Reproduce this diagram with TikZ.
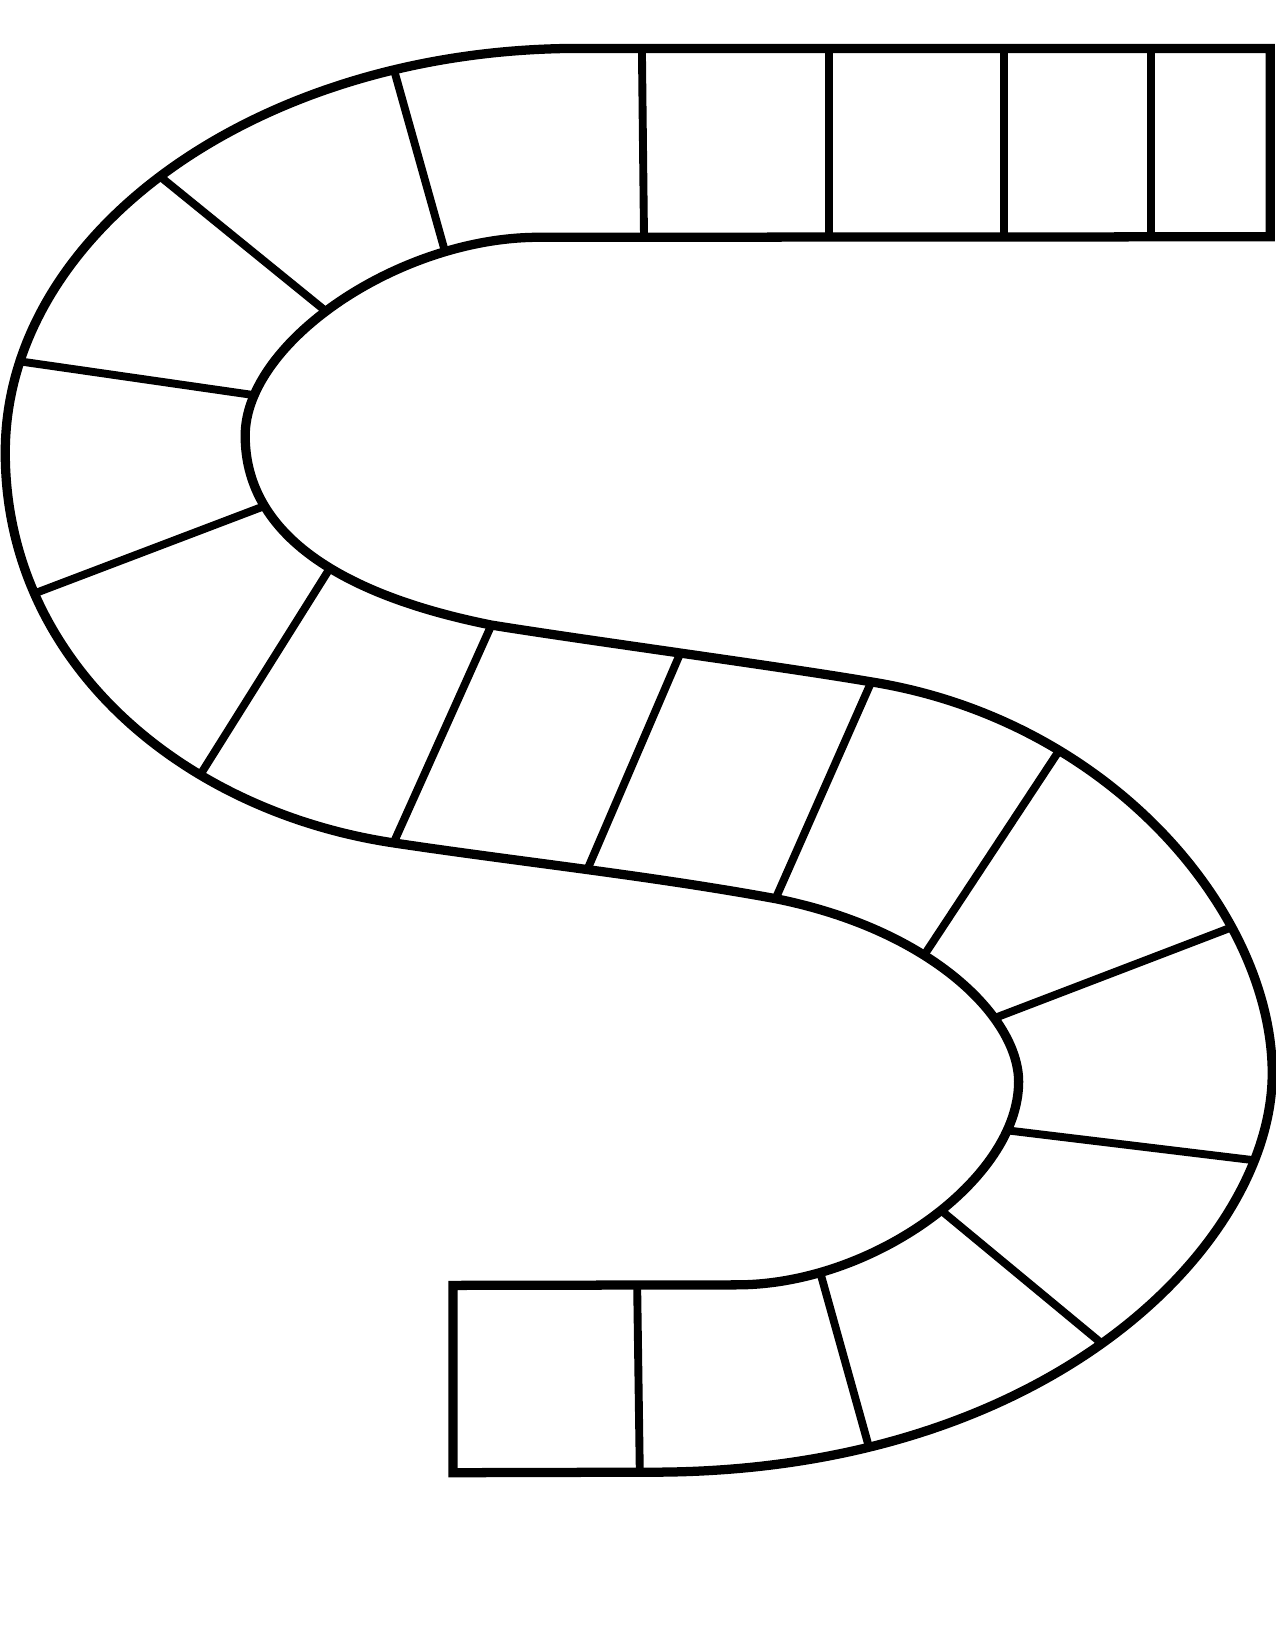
\documentclass[tikz,border=0pt]{standalone}
\begin{document}
\begin{tikzpicture}[x=1pt,y=-1pt,
  edge/.style={line width=8.8pt,line join=miter,line cap=butt},
  divider/.style={line width=7.5pt,line cap=butt,shorten <=-14pt,shorten >=-14pt}]
\useasboundingbox[fill=white] (0,0) rectangle (1212,1568);
% divider ends on the first boundary
\coordinate (a1) at (1094,46);
\coordinate (a2) at (954,46);
\coordinate (a3) at (788,46);
\coordinate (a4) at (610,46);
\coordinate (a6) at (375,68.5);
\coordinate (a7) at (150,166);
\coordinate (a8) at (16,343);
\coordinate (a9) at (30,565);
\coordinate (a10) at (193,732);
\coordinate (a11) at (374,801);
\coordinate (a12) at (557,829);
\coordinate (a13) at (737,854);
\coordinate (a14) at (880,905);
\coordinate (a14b) at (949,966);
\coordinate (a15) at (964,1075);
\coordinate (a16) at (894,1150);
\coordinate (a17) at (778,1204);
\coordinate (a18) at (605.5,1222.5);
% divider ends on the second boundary
\coordinate (b1) at (1094,225);
\coordinate (b2) at (954,225);
\coordinate (b3) at (788,225);
\coordinate (b4) at (612,225);
\coordinate (b5) at (424,243);
\coordinate (b6) at (310,296);
\coordinate (b7) at (238,375);
\coordinate (b8) at (251,481);
\coordinate (b9) at (316,536);
\coordinate (b10) at (467,594);
\coordinate (b11) at (647,619.5);
\coordinate (b12) at (828,648);
\coordinate (b13) at (1006,714);
\coordinate (b14) at (1171,881);
\coordinate (b15) at (1187,1102);
\coordinate (b16) at (1051,1280);
\coordinate (b17) at (826,1376);
\coordinate (b18) at (608,1399);
\def\band{(1207,46) -- (550,46)
  .. controls (249,46) and (5,218) .. (5,430)
  .. controls (5,630) and (174,771) .. (374,801)
  .. controls (494,819) and (617,832) .. (737,854)
  .. controls (887,884) and (968,968) .. (968,1028)
  .. controls (968,1120) and (830,1221) .. (700,1221)
  -- (430.5,1221.5) -- (430.5,1399.5) -- (620,1399)
  .. controls (1000,1399) and (1209,1180) .. (1209,1020)
  .. controls (1209,870) and (1058,685) .. (828,648)
  .. controls (740,633) and (560,609) .. (467,594)
  .. controls (317,564) and (233,504) .. (233,414)
  .. controls (233,325) and (380,225) .. (513,225.5)
  -- (1207,225) -- cycle}
\begin{scope}
\clip \band;
\foreach \i/\j in {a1/b1,a2/b2,a3/b3,a4/b4,a6/b5,a7/b6,a8/b7,a9/b8,a10/b9,
  a11/b10,a12/b11,a13/b12,a14/b13,a14b/b14,a15/b15,a16/b16,a17/b17,a18/b18}
  \draw[divider] (\i) -- (\j);
\end{scope}
\draw[edge] \band;
\end{tikzpicture}
\end{document}
